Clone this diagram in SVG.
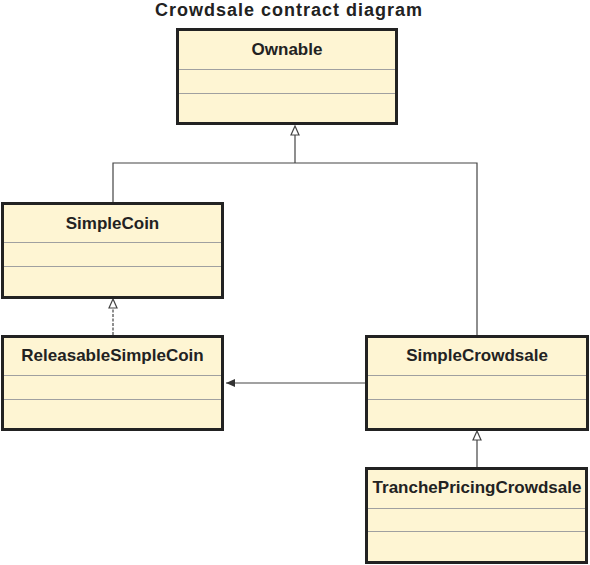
<svg xmlns="http://www.w3.org/2000/svg" width="590" height="565" viewBox="0 0 590 565">
<defs>
<style>
.box{fill:#fef5d3;stroke:#222;stroke-width:3}
.div{stroke:#a0a0a0;stroke-width:1}
.lbl{font-family:"Liberation Sans",Arial,sans-serif;font-weight:bold;font-size:17px;fill:#222;text-anchor:middle}
.title{font-family:"Liberation Sans",Arial,sans-serif;font-weight:bold;font-size:18px;fill:#222;text-anchor:middle}
.con{fill:none;stroke:#444;stroke-width:1.2}
.hollow{fill:#fff;stroke:#444;stroke-width:1.2}
</style>
<marker id="filled" markerWidth="10" markerHeight="8" refX="9" refY="4" orient="auto" markerUnits="userSpaceOnUse">
<path d="M0,0 L9,4 L0,8 z" fill="#333"/>
</marker>
</defs>
<rect width="590" height="565" fill="#fff"/>
<text class="title" x="288.5" y="16" textLength="267" lengthAdjust="spacing">Crowdsale contract diagram</text>

<g id="connectors">
<path class="con" d="M113,202 V163 H477 V335"/>
<path class="con" d="M295,163 V135"/>
<polygon class="hollow" points="295,126 291,135 299,135"/>
<path class="con" d="M113,335 V308" stroke-dasharray="3 1.5"/>
<polygon class="hollow" points="113,299 109,308 117,308"/>
<path class="con" d="M477,467 V440"/>
<polygon class="hollow" points="477,431 473,440 481,440"/>
<path class="con" d="M365,383 H226" marker-end="url(#filled)"/>
</g>

<g id="Ownable">
<rect class="box" x="177.5" y="29.5" width="219" height="94"/>
<line class="div" x1="179" y1="69.5" x2="395" y2="69.5"/>
<line class="div" x1="179" y1="93.5" x2="395" y2="93.5"/>
<text class="lbl" x="287" y="55">Ownable</text>
</g>

<g id="SimpleCoin">
<rect class="box" x="2.5" y="203.5" width="220" height="94"/>
<line class="div" x1="4" y1="242.5" x2="221" y2="242.5"/>
<line class="div" x1="4" y1="266.5" x2="221" y2="266.5"/>
<text class="lbl" x="112.5" y="229">SimpleCoin</text>
</g>

<g id="ReleasableSimpleCoin">
<rect class="box" x="2.5" y="336.5" width="220" height="93"/>
<line class="div" x1="4" y1="375.5" x2="221" y2="375.5"/>
<line class="div" x1="4" y1="399.5" x2="221" y2="399.5"/>
<text class="lbl" x="112.5" y="361">ReleasableSimpleCoin</text>
</g>

<g id="SimpleCrowdsale">
<rect class="box" x="366.5" y="336.5" width="221" height="93"/>
<line class="div" x1="368" y1="375.5" x2="586" y2="375.5"/>
<line class="div" x1="368" y1="399.5" x2="586" y2="399.5"/>
<text class="lbl" x="477" y="361">SimpleCrowdsale</text>
</g>

<g id="TranchePricingCrowdsale">
<rect class="box" x="366.5" y="468.5" width="220" height="94"/>
<line class="div" x1="368" y1="508.5" x2="585" y2="508.5"/>
<line class="div" x1="368" y1="531.5" x2="585" y2="531.5"/>
<text class="lbl" x="477" y="493">TranchePricingCrowdsale</text>
</g>
</svg>
